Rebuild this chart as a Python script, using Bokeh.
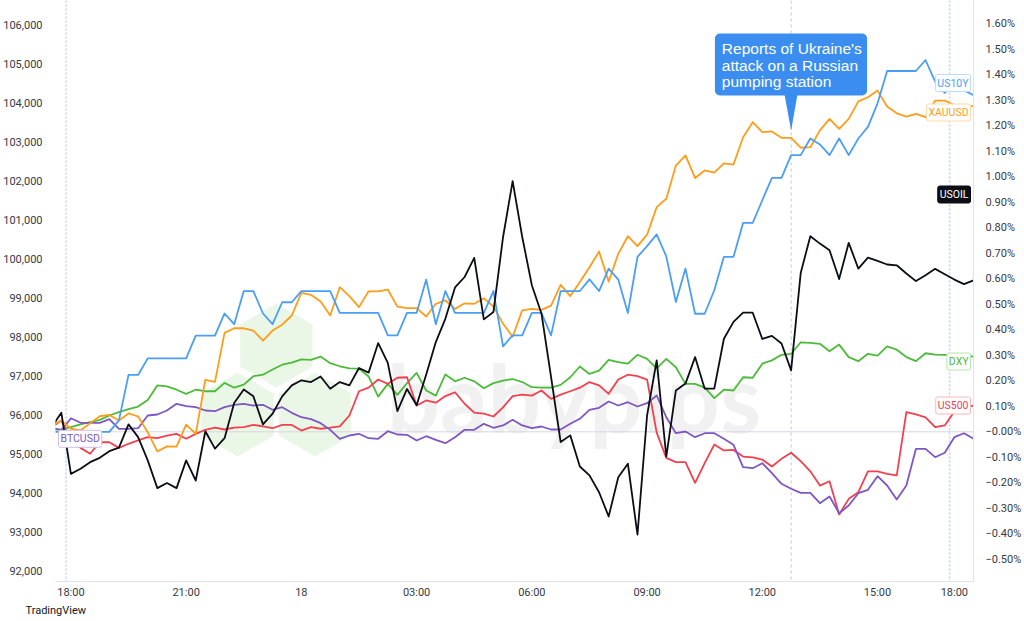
from bokeh.plotting import figure
from bokeh.models import (Range1d, LinearAxis, FixedTicker, Span, Label, Title,
                          BoxAnnotation, PolyAnnotation, NumeralTickFormatter)
from bokeh.embed import file_html
from bokeh.resources import INLINE
import math

# ---------------- data (15-minute bars, index 0 = 18:00) ----------------
bars = list(range(-2, 95))

usoil = [0.018, 0.075, -0.165, -0.145, -0.119, -0.102, -0.076, -0.062, 0.029, -0.021,
         -0.112, -0.221, -0.201, -0.221, -0.112, -0.191, 0.002, -0.066, -0.025, 0.113,
         0.166, 0.139, 0.029, 0.071, 0.139, 0.182, 0.202, 0.195, 0.217, 0.169,
         0.195, 0.182, 0.250, 0.232, 0.348, 0.270, 0.081, 0.168, 0.104, 0.225,
         0.352, 0.444, 0.566, 0.607, 0.682, 0.441, 0.470, 0.763, 0.983, 0.764,
         0.575, 0.464, 0.215, -0.040, -0.014, -0.136, -0.171, -0.237, -0.332, -0.178,
         -0.125, -0.403, 0.064, 0.280, -0.097, 0.162, 0.189, 0.293, 0.169, 0.169,
         0.365, 0.431, 0.467, 0.467, 0.364, 0.376, 0.346, 0.241, 0.623, 0.767,
         0.738, 0.712, 0.599, 0.741, 0.640, 0.683, 0.670, 0.656, 0.653, 0.621,
         0.591, 0.614, 0.639, 0.618, 0.597, 0.579, 0.594]

us10y = [0.0, 0.0, 0.0, 0.0, 0.0, 0.0, 0.0, 0.045, 0.223, 0.223,
         0.288, 0.288, 0.288, 0.288, 0.288, 0.377, 0.377, 0.377, 0.464, 0.422,
         0.552, 0.552, 0.464, 0.422, 0.508, 0.508, 0.552, 0.552, 0.552, 0.552,
         0.466, 0.466, 0.466, 0.466, 0.466, 0.378, 0.378, 0.466, 0.466, 0.597,
         0.422, 0.552, 0.466, 0.466, 0.466, 0.466, 0.552, 0.335, 0.378, 0.378,
         0.466, 0.466, 0.378, 0.552, 0.552, 0.552, 0.598, 0.552, 0.640, 0.597,
         0.466, 0.686, 0.728, 0.774, 0.688, 0.509, 0.640, 0.463, 0.463, 0.555,
         0.686, 0.686, 0.819, 0.819, 0.908, 0.996, 0.996, 1.085, 1.085, 1.150,
         1.127, 1.085, 1.150, 1.085, 1.150, 1.196, 1.288, 1.415, 1.415, 1.415,
         1.415, 1.458, 1.373, 1.329, 1.366, 1.340, 1.320]

xauusd = [0.025, 0.044, 0.012, 0.006, 0.033, 0.061, 0.066, 0.044, 0.072, 0.060,
          -0.002, -0.077, -0.057, -0.058, 0.028, -0.008, 0.204, 0.196, 0.388, 0.406,
          0.406, 0.397, 0.358, 0.397, 0.420, 0.456, 0.545, 0.537, 0.511, 0.456,
          0.567, 0.532, 0.489, 0.551, 0.551, 0.558, 0.491, 0.485, 0.485, 0.452,
          0.502, 0.515, 0.482, 0.504, 0.502, 0.524, 0.491, 0.424, 0.373, 0.476,
          0.482, 0.478, 0.495, 0.576, 0.532, 0.587, 0.645, 0.707, 0.589, 0.698,
          0.767, 0.728, 0.773, 0.881, 0.914, 1.044, 1.084, 0.995, 1.025, 1.016,
          1.053, 1.048, 1.155, 1.214, 1.175, 1.178, 1.153, 1.153, 1.114, 1.116,
          1.182, 1.227, 1.188, 1.227, 1.296, 1.312, 1.338, 1.276, 1.249, 1.236,
          1.247, 1.234, 1.299, 1.299, 1.280, 1.280, 1.276]

dxy = [0.008, 0.010, 0.018, 0.029, 0.038, 0.047, 0.064, 0.077, 0.089, 0.099,
       0.125, 0.182, 0.178, 0.165, 0.149, 0.165, 0.159, 0.159, 0.192, 0.173,
       0.185, 0.218, 0.224, 0.244, 0.263, 0.271, 0.284, 0.282, 0.295, 0.269,
       0.257, 0.249, 0.248, 0.217, 0.138, 0.188, 0.145, 0.191, 0.231, 0.162,
       0.142, 0.225, 0.198, 0.212, 0.198, 0.171, 0.191, 0.201, 0.207, 0.195,
       0.175, 0.173, 0.173, 0.184, 0.214, 0.256, 0.227, 0.240, 0.282, 0.273,
       0.267, 0.302, 0.286, 0.249, 0.286, 0.253, 0.188, 0.188, 0.173, 0.132,
       0.165, 0.162, 0.214, 0.212, 0.267, 0.280, 0.302, 0.306, 0.351, 0.349,
       0.345, 0.316, 0.342, 0.293, 0.277, 0.306, 0.299, 0.335, 0.322, 0.293,
       0.277, 0.308, 0.303, 0.302, 0.299, 0.299, 0.295]

us500 = [0.018, 0.044, -0.037, -0.063, -0.086, -0.041, -0.041, -0.063, -0.047, -0.034,
         -0.021, -0.025, -0.015, -0.008, -0.027, -0.008, 0.008, 0.016, 0.009, 0.016,
         0.018, 0.027, 0.021, 0.014, 0.027, 0.027, 0.005, 0.018, 0.012, 0.016,
         0.021, 0.064, 0.159, 0.173, 0.205, 0.188, 0.212, 0.214, 0.103, 0.123,
         0.114, 0.140, 0.155, 0.110, 0.075, 0.071, 0.060, 0.096, 0.140, 0.146,
         0.142, 0.162, 0.129, 0.146, 0.159, 0.173, 0.195, 0.182, 0.149, 0.205,
         0.224, 0.218, 0.205, -0.003, -0.102, -0.119, -0.119, -0.200, -0.123, -0.050,
         -0.073, -0.071, -0.097, -0.100, -0.109, -0.136, -0.106, -0.082, -0.115, -0.155,
         -0.211, -0.194, -0.324, -0.263, -0.237, -0.155, -0.155, -0.165, -0.171, 0.077,
         0.068, 0.057, 0.018, 0.025, 0.080, 0.095, 0.103]

btcusd = [95682, 95597, 95913, 95795, 95795, 95795, 95887, 95641, 95641, 95656,
          95982, 96008, 96110, 96282, 96220, 96195, 96110, 96092, 96195, 96256,
          96282, 96238, 96256, 96128, 96195, 96051, 95938, 95887, 95785, 95615,
          95385, 95469, 95513, 95400, 95385, 95579, 95495, 95487, 95341, 95451,
          95359, 95272, 95426, 95615, 95615, 95769, 95667, 95726, 95872, 95726,
          95656, 95700, 95623, 95623, 95769, 95897, 96128, 96179, 96341, 96238,
          96323, 96213, 96297, 96495, 95938, 95528, 95572, 95426, 95528, 95528,
          95385, 95231, 94656, 94631, 94759, 94503, 94231, 94103, 94000, 94000,
          93733, 93905, 93477, 93674, 93990, 94077, 94426, 94187, 93828, 94187,
          95128, 95128, 94913, 95026, 95426, 95528, 95385]

time_ticks = [0, 12, 24, 36, 48, 60, 72, 84, 92]
time_labels = ["18:00", "21:00", "18", "03:00", "06:00", "09:00", "12:00", "15:00", "18:00"]

pct_ticks = [-0.5, -0.4, -0.3, -0.2, -0.1, 0.0, 0.1, 0.2, 0.3, 0.4, 0.5,
             0.6, 0.7, 0.8, 0.9, 1.0, 1.1, 1.2, 1.3, 1.4, 1.5, 1.6]
pct_labels = ["\u22120.50%", "\u22120.40%", "\u22120.30%", "\u22120.20%", "\u22120.10%", "\u22120.00%",
              "0.10%", "0.20%", "0.30%", "0.40%", "0.50%", "0.60%", "0.70%", "0.80%",
              "0.90%", "1.00%", "1.10%", "1.20%", "1.30%", "1.40%", "1.50%", "1.60%"]
btc_ticks = [92000, 93000, 94000, 95000, 96000, 97000, 98000, 99000,
             100000, 101000, 102000, 103000, 104000, 105000, 106000]

session_breaks = [-0.5, 91.5]
event_bar = 75
event_text = ["Reports of Ukraine's", "attack on a Russian", "pumping station"]

# ---------------- layout geometry (pixels) ----------------
W, H = 1024, 621
FL, FR, FT, FB = 52, 975, 0, 581
BAR0_PX, BAR_PX = 67.5, 9.655
ZERO_PX, PCT_PX = 431.3, 255.0
BTC95_PX, BTC_PER_PX = 453.3, 25.64


def kx(px):
    return (px - BAR0_PX) / BAR_PX


def pyv(py):
    return (ZERO_PX - py) / PCT_PX


def byv(py):
    return 95000 + (BTC95_PX - py) * BTC_PER_PX


BLACK = "#0c0e15"
BLUE = "#4a9ff5"
ORANGE = "#ff9d1a"
GREEN = "#4cbb3a"
RED = "#f2404f"
PURPLE = "#7e57c2"
CALLOUT = "#3b8ef0"
AXIS_TXT = "#363a45"
FONT = "Roboto"

p = figure(width=W, height=H, output_backend="svg", toolbar_location=None,
           x_range=Range1d(kx(FL), kx(FR)), y_range=Range1d(pyv(FB), pyv(FT)),
           y_axis_location="right",
           min_border_left=FL, min_border_right=W - FR,
           min_border_top=FT, min_border_bottom=H - FB)
p.extra_y_ranges = {"btc": Range1d(byv(FB), byv(FT))}
p.xgrid.visible = False
p.ygrid.visible = False
p.outline_line_color = None
p.background_fill_color = "white"
p.border_fill_color = "white"

# right (percent) axis
ra = p.yaxis[0]
ra.ticker = FixedTicker(ticks=pct_ticks)
ra.major_label_overrides = dict(zip(pct_ticks, pct_labels))
ra.major_tick_line_color = None
ra.minor_tick_line_color = None
ra.axis_line_color = "#e0e3eb"
ra.major_label_standoff = 6
ra.major_label_text_font = FONT
ra.major_label_text_font_size = "11px"
ra.major_label_text_color = AXIS_TXT

# left (BTC price) axis
la = LinearAxis(y_range_name="btc", ticker=FixedTicker(ticks=btc_ticks),
                formatter=NumeralTickFormatter(format="0,0"))
la.major_tick_line_color = None
la.minor_tick_line_color = None
la.axis_line_color = None
la.major_label_standoff = 7
la.major_label_text_font = FONT
la.major_label_text_font_size = "11px"
la.major_label_text_color = AXIS_TXT
p.add_layout(la, "left")

# time axis
xa = p.xaxis[0]
xa.ticker = FixedTicker(ticks=time_ticks)
xa.major_label_overrides = dict(zip(time_ticks, time_labels))
xa.major_tick_line_color = None
xa.major_tick_out = 0
xa.major_tick_in = 0
xa.minor_tick_line_color = None
xa.minor_tick_out = 0
xa.axis_line_color = "#e0e3eb"
xa.major_label_standoff = 4
xa.major_label_text_font = FONT
xa.major_label_text_font_size = "11px"
xa.major_label_text_color = AXIS_TXT

# footer credit below the time axis
p.add_layout(Title(text="TradingView", align="left", offset=-30, standoff=0,
                   text_font=FONT, text_font_size="11px", text_font_style="normal",
                   text_color="#131722"), "below")

# ---------------- watermark ----------------
def hexagon(cx, cy, r):
    xs, ys = [], []
    for i in range(6):
        a = math.radians(90 + 60 * i)
        xs.append(kx(cx + r * math.cos(a)))
        ys.append(pyv(cy - r * math.sin(a)))
    return xs, ys


for cx, cy in [(274, 345), (235, 414), (313, 414)]:
    hx, hy = hexagon(cx, cy, 42)
    p.add_layout(PolyAnnotation(xs=hx, ys=hy, fill_color="#eaf6e6", fill_alpha=1.0,
                                line_color=None, level="underlay"))
p.add_layout(Label(x=kx(385), y=pyv(396), text="babypips", text_font="Lato",
                   text_font_style="bold", text_font_size="94px", text_color="#f1f1f1",
                   text_baseline="alphabetic", level="underlay"))

# ---------------- reference lines ----------------
p.add_layout(Span(location=0, dimension="width", line_color="#d6d8de", line_width=1,
                  level="underlay"))
for sb in session_breaks:
    p.add_layout(Span(location=sb, dimension="height", line_color="#bcd2f4",
                      line_width=1.5, line_dash="2 2", level="underlay"))
p.add_layout(Span(location=event_bar, dimension="height", line_color="#c4c6cc",
                  line_width=1, line_dash="3 3", level="underlay"))

# ---------------- series ----------------
p.line(bars, dxy, line_color=GREEN, line_width=1.8, line_join="round")
p.line(bars, us500, line_color=RED, line_width=1.8, line_join="round")
p.line(bars, btcusd, line_color=PURPLE, line_width=1.8, line_join="round", y_range_name="btc")
p.line(bars, xauusd, line_color=ORANGE, line_width=1.8, line_join="round")
p.line(bars, us10y, line_color=BLUE, line_width=1.8, line_join="round")
p.line(bars, usoil, line_color=BLACK, line_width=1.8, line_join="round")

# ---------------- series tags ----------------
tag_x = kx(FR - 3)
tags = [("US10Y", 82.5, BLUE, "#bcdcfb", "white"),
        ("XAUUSD", 112, ORANGE, "#ffd9a3", "white"),
        ("USOIL", 194, "white", BLACK, BLACK),
        ("DXY", 361, GREEN, "#b5e4ad", "white"),
        ("US500", 405, RED, "#f9b7be", "white")]
for txt, ypx, tc, bc, fc in tags:
    p.add_layout(Label(x=tag_x, y=pyv(ypx), text=txt, text_align="right",
                       text_baseline="middle", text_font=FONT, text_font_size="10.5px",
                       text_color=tc, background_fill_color=fc, border_line_color=bc,
                       padding=2, border_radius=2))
p.add_layout(Label(x=kx(FL + 3), y=btcusd[-1], y_range_name="btc", text="BTCUSD",
                   text_align="left", text_baseline="middle", text_font=FONT,
                   text_font_size="10.5px", text_color=PURPLE, background_fill_color="white",
                   border_line_color="#cdbdea", padding=2, border_radius=2))

# ---------------- callout ----------------
p.add_layout(BoxAnnotation(left=kx(715), right=kx(868), top=pyv(33), bottom=pyv(95),
                           fill_color=CALLOUT, fill_alpha=1.0, line_color=None,
                           border_radius=5))
p.add_layout(PolyAnnotation(xs=[kx(785), kx(798), event_bar], ys=[pyv(94), pyv(94), pyv(130)],
                            fill_color=CALLOUT, fill_alpha=1.0, line_color=None))
for i, line in enumerate(event_text):
    p.add_layout(Label(x=kx(722), y=pyv(48 + 16.5 * i), text=line, text_font="Liberation Sans",
                       text_font_size="15.5px", text_color="white", text_baseline="middle"))

open("out.html", "w").write(file_html(p, INLINE))
